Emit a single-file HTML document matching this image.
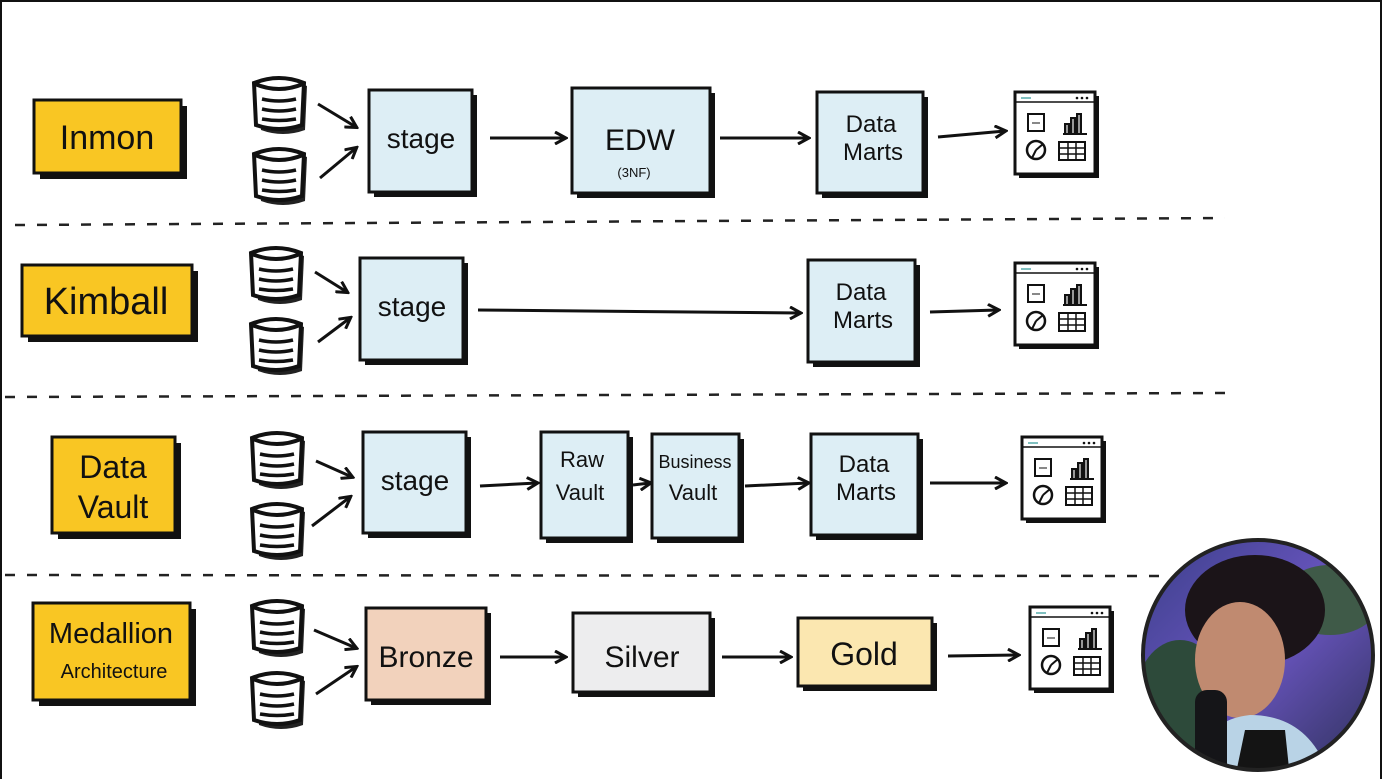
<!DOCTYPE html>
<html><head><meta charset="utf-8"><style>
html,body{margin:0;padding:0;background:#fff;}
svg{display:block;}
text{font-family:"Liberation Sans",sans-serif;fill:#111;}
</style></head><body>
<svg width="1382" height="779" viewBox="0 0 1382 779" xmlns="http://www.w3.org/2000/svg">
<defs>
<marker id="ah" markerWidth="14" markerHeight="14" refX="11" refY="7" orient="auto" markerUnits="userSpaceOnUse">
<path d="M1,1 L12,7 L1,13" fill="none" stroke="#111" stroke-width="3" stroke-linejoin="miter"/>
</marker>
<g id="db">
<path d="M6,8 Q30,-2 54,8 L52,52 Q30,60 8,52 Z" fill="#222" transform="translate(3,3)"/>
<path d="M4,8 Q29,-2 54,8 L52,50 Q29,58 6,50 Z" fill="#fff" stroke="#111" stroke-width="4"/>
<path d="M5,9 Q29,19 53,9" fill="none" stroke="#111" stroke-width="4"/>
<path d="M12,24 Q29,28 46,24 M12,34 Q29,38 46,34 M12,44 Q29,47 46,44" fill="none" stroke="#111" stroke-width="3.5"/>
</g>
<g id="dash">
<rect x="4" y="4" width="80" height="82" fill="#111"/>
<rect x="0" y="0" width="80" height="82" fill="#fff" stroke="#111" stroke-width="3"/>
<line x1="0" y1="10" x2="80" y2="10" stroke="#111" stroke-width="1.5"/>
<path d="M6,6 h10" stroke="#5aa" stroke-width="1.5"/>
<circle cx="62" cy="6" r="1.3" fill="#111"/><circle cx="67" cy="6" r="1.3" fill="#111"/><circle cx="72" cy="6" r="1.3" fill="#111"/>
<rect x="13" y="22" width="16" height="17" fill="#fff" stroke="#111" stroke-width="2"/>
<path d="M17,31 h8" stroke="#111" stroke-width="1"/>
<path d="M48,42 h24 M50,42 v-10 h4 v10 M56,42 v-16 h4 v16 M62,42 v-20 h4 v20" fill="#999" stroke="#111" stroke-width="2"/>
<circle cx="21" cy="58" r="9" fill="#fff" stroke="#111" stroke-width="2.5"/>
<path d="M21,58 L28,52 M21,58 L17,66" stroke="#111" stroke-width="2"/>
<rect x="44" y="50" width="26" height="18" fill="#fff" stroke="#111" stroke-width="2"/>
<path d="M44,56 h26 M44,62 h26 M53,50 v18 M61,50 v18" stroke="#111" stroke-width="1.5"/>
</g>
<linearGradient id="bg" x1="0" y1="0" x2="1" y2="1">
<stop offset="0" stop-color="#3a3f88"/><stop offset="0.5" stop-color="#6a55c0"/><stop offset="1" stop-color="#2b2f55"/>
</linearGradient>
<clipPath id="cc"><circle cx="1258" cy="655" r="115"/></clipPath>
</defs>
<rect x="0" y="0" width="1382" height="779" fill="#fff"/>
<path d="M1,779 V1 H1381 V779" fill="none" stroke="#111" stroke-width="2"/>

<g stroke="#222" stroke-width="2.5" stroke-dasharray="10,12" fill="none">
<path d="M15,225 L1225,218"/>
<path d="M5,397 L1230,393"/>
<path d="M5,575 L1170,576"/>
</g>

<!-- Row 1 Inmon -->
<rect x="40" y="106" width="147" height="73" fill="#111"/>
<rect x="34" y="100" width="147" height="73" fill="#F9C623" stroke="#111" stroke-width="3"/>
<text x="107" y="149" font-size="34" text-anchor="middle">Inmon</text>
<use href="#db" x="250" y="75"/>
<use href="#db" x="250" y="146"/>
<g stroke="#111" stroke-width="3" fill="none" marker-end="url(#ah)">
<line x1="318" y1="104" x2="356" y2="127"/>
<line x1="320" y1="178" x2="356" y2="148"/>
<line x1="490" y1="138" x2="565" y2="138"/>
<line x1="720" y1="138" x2="808" y2="138"/>
<line x1="938" y1="137" x2="1005" y2="131"/>
</g>
<rect x="374" y="95" width="103" height="102" fill="#111"/>
<rect x="369" y="90" width="103" height="102" fill="#DDEEF5" stroke="#111" stroke-width="3"/>
<text x="421" y="148" font-size="28" text-anchor="middle">stage</text>
<rect x="577" y="93" width="138" height="105" fill="#111"/>
<rect x="572" y="88" width="138" height="105" fill="#DDEEF5" stroke="#111" stroke-width="3"/>
<text x="640" y="150" font-size="30" text-anchor="middle">EDW</text>
<text x="634" y="177" font-size="13" text-anchor="middle">(3NF)</text>
<rect x="822" y="97" width="106" height="101" fill="#111"/>
<rect x="817" y="92" width="106" height="101" fill="#DDEEF5" stroke="#111" stroke-width="3"/>
<text x="871" y="132" font-size="24" text-anchor="middle">Data</text>
<text x="873" y="160" font-size="24" text-anchor="middle">Marts</text>
<use href="#dash" x="1015" y="92"/>

<!-- Row 2 Kimball -->
<rect x="28" y="271" width="170" height="71" fill="#111"/>
<rect x="22" y="265" width="170" height="71" fill="#F9C623" stroke="#111" stroke-width="3"/>
<text x="106" y="314" font-size="38" text-anchor="middle">Kimball</text>
<use href="#db" x="247" y="245"/>
<use href="#db" x="247" y="316"/>
<g stroke="#111" stroke-width="3" fill="none" marker-end="url(#ah)">
<line x1="315" y1="272" x2="347" y2="292"/>
<line x1="318" y1="342" x2="350" y2="318"/>
<line x1="478" y1="310" x2="800" y2="313"/>
<line x1="930" y1="312" x2="998" y2="310"/>
</g>
<rect x="365" y="263" width="103" height="102" fill="#111"/>
<rect x="360" y="258" width="103" height="102" fill="#DDEEF5" stroke="#111" stroke-width="3"/>
<text x="412" y="316" font-size="28" text-anchor="middle">stage</text>
<rect x="813" y="265" width="107" height="102" fill="#111"/>
<rect x="808" y="260" width="107" height="102" fill="#DDEEF5" stroke="#111" stroke-width="3"/>
<text x="861" y="300" font-size="24" text-anchor="middle">Data</text>
<text x="863" y="328" font-size="24" text-anchor="middle">Marts</text>
<use href="#dash" x="1015" y="263"/>

<!-- Row 3 Data Vault -->
<rect x="58" y="443" width="123" height="96" fill="#111"/>
<rect x="52" y="437" width="123" height="96" fill="#F9C623" stroke="#111" stroke-width="3"/>
<text x="113" y="478" font-size="32" text-anchor="middle">Data</text>
<text x="113" y="518" font-size="32" text-anchor="middle">Vault</text>
<use href="#db" x="248" y="430"/>
<use href="#db" x="248" y="501"/>
<g stroke="#111" stroke-width="3" fill="none" marker-end="url(#ah)">
<line x1="316" y1="461" x2="352" y2="477"/>
<line x1="312" y1="526" x2="350" y2="497"/>
<line x1="480" y1="486" x2="537" y2="483"/>
<line x1="633" y1="485" x2="650" y2="483"/>
<line x1="745" y1="486" x2="808" y2="483"/>
<line x1="930" y1="483" x2="1005" y2="483"/>
</g>
<rect x="368" y="437" width="103" height="101" fill="#111"/>
<rect x="363" y="432" width="103" height="101" fill="#DDEEF5" stroke="#111" stroke-width="3"/>
<text x="415" y="490" font-size="28" text-anchor="middle">stage</text>
<rect x="546" y="437" width="87" height="106" fill="#111"/>
<rect x="541" y="432" width="87" height="106" fill="#DDEEF5" stroke="#111" stroke-width="3"/>
<text x="582" y="467" font-size="22" text-anchor="middle">Raw</text>
<text x="580" y="500" font-size="22" text-anchor="middle">Vault</text>
<rect x="657" y="439" width="87" height="104" fill="#111"/>
<rect x="652" y="434" width="87" height="104" fill="#DDEEF5" stroke="#111" stroke-width="3"/>
<text x="695" y="468" font-size="18" text-anchor="middle">Business</text>
<text x="693" y="500" font-size="22" text-anchor="middle">Vault</text>
<rect x="816" y="439" width="107" height="101" fill="#111"/>
<rect x="811" y="434" width="107" height="101" fill="#DDEEF5" stroke="#111" stroke-width="3"/>
<text x="864" y="472" font-size="24" text-anchor="middle">Data</text>
<text x="866" y="500" font-size="24" text-anchor="middle">Marts</text>
<use href="#dash" x="1022" y="437"/>

<!-- Row 4 Medallion -->
<rect x="39" y="609" width="157" height="97" fill="#111"/>
<rect x="33" y="603" width="157" height="97" fill="#F9C623" stroke="#111" stroke-width="3"/>
<text x="111" y="643" font-size="29" text-anchor="middle">Medallion</text>
<text x="114" y="678" font-size="20" text-anchor="middle">Architecture</text>
<use href="#db" x="248" y="598"/>
<use href="#db" x="248" y="670"/>
<g stroke="#111" stroke-width="3" fill="none" marker-end="url(#ah)">
<line x1="314" y1="630" x2="356" y2="648"/>
<line x1="316" y1="694" x2="356" y2="667"/>
<line x1="500" y1="657" x2="565" y2="657"/>
<line x1="722" y1="657" x2="790" y2="657"/>
<line x1="948" y1="656" x2="1018" y2="655"/>
</g>
<rect x="371" y="613" width="120" height="92" fill="#111"/>
<rect x="366" y="608" width="120" height="92" fill="#F2D2BC" stroke="#111" stroke-width="3"/>
<text x="426" y="667" font-size="30" text-anchor="middle">Bronze</text>
<rect x="578" y="618" width="137" height="79" fill="#111"/>
<rect x="573" y="613" width="137" height="79" fill="#EDEDEE" stroke="#111" stroke-width="3"/>
<text x="642" y="667" font-size="30" text-anchor="middle">Silver</text>
<rect x="803" y="623" width="134" height="68" fill="#111"/>
<rect x="798" y="618" width="134" height="68" fill="#FBE7B0" stroke="#111" stroke-width="3"/>
<text x="864" y="665" font-size="32" text-anchor="middle">Gold</text>
<use href="#dash" x="1030" y="607"/>

<g clip-path="url(#cc)">
<rect x="1140" y="538" width="240" height="240" fill="url(#bg)"/>
<ellipse cx="1180" cy="700" rx="45" ry="60" fill="#2d4a3a"/>
<ellipse cx="1330" cy="600" rx="50" ry="35" fill="#3f5a48"/>
<ellipse cx="1255" cy="610" rx="70" ry="55" fill="#1b1418"/>
<ellipse cx="1240" cy="660" rx="45" ry="58" fill="#c08a70"/>
<path d="M1190,778 Q1200,720 1250,715 Q1310,715 1330,778 Z" fill="#b9d3e6"/>
<path d="M1235,778 L1245,730 L1285,730 L1290,778 Z" fill="#141414"/>
<rect x="1195" y="690" width="32" height="90" rx="12" fill="#151518"/>
</g>
<circle cx="1258" cy="655" r="115" fill="none" stroke="#222" stroke-width="4"/>
</svg>
</body></html>
